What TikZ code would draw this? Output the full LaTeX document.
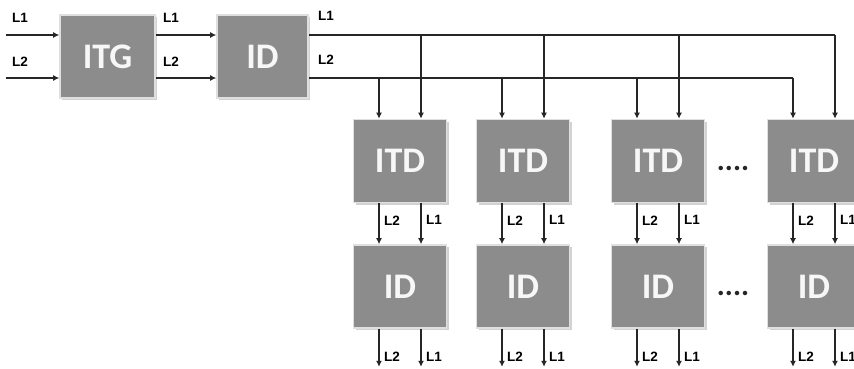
\documentclass[tikz,border=0pt]{standalone}
\usepackage{fontspec}
\setmainfont{Liberation Sans}
\newfontfamily\boxfont{Carlito}
\usetikzlibrary{arrows.meta,shadows}
\definecolor{boxgray}{HTML}{8C8C8C}
\definecolor{wirecol}{HTML}{262626}
\tikzset{
  blk/.style={draw=gray!25, line width=1.6pt, fill=boxgray, minimum width=93pt, minimum height=83pt,
    inner sep=0pt, text=white!94!gray, font=\boxfont\bfseries\fontsize{36}{36}\selectfont,
    drop shadow={shadow xshift=2pt, shadow yshift=-2pt, opacity=0.35}},
  wire/.style={draw=wirecol, line width=2.6pt},
  arr/.style={wire, -{Latex[length=6pt,width=6pt]}},
  lbl/.style={font=\bfseries\fontsize{13.5}{13.5}\selectfont, text=black, inner sep=0pt},
  dotsx/.style={font=\boxfont\bfseries\fontsize{30}{30}\selectfont, text=wirecol, inner sep=0pt}
}
\begin{document}
\begin{tikzpicture}[x=1pt,y=-1pt]
\useasboundingbox (0,0) rectangle (854,369);
\clip (0,0) rectangle (854,369);
\fill[white] (0,0) rectangle (854,369);
% top chain
\node[blk, minimum width=95pt] (itg) at (107.5,56.5) {ITG};
\node[blk, minimum width=91pt] (id0) at (262.5,56.5) {ID};
\coordinate (in1) at (6,35);
\coordinate (in2) at (6,78);
\draw[arr] (in1) -- (in1 -| itg.west);
\draw[arr] (in2) -- (in2 -| itg.west);
\draw[arr] (itg.east |- in1) -- (id0.west |- in1);
\draw[arr] (itg.east |- in2) -- (id0.west |- in2);
\node[lbl, anchor=west] (t1) at (12,18) {L1};
\node[lbl, anchor=west] (t2) at (12,62) {L2};
\node[lbl, anchor=west] (t3) at (163,18) {L1};
\node[lbl, anchor=west] (t4) at (163,62) {L2};
\node[lbl, anchor=west] (t5) at (318,16) {L1};
\node[lbl, anchor=west] (t6) at (318,60) {L2};
% rows
\foreach \i/\x in {1/400,2/523,3/658,4/814}{
  \node[blk] (itd\i) at (\x,161) {ITD};
  \node[blk] (idb\i) at (\x,286.5) {ID};
}
\node[dotsx] (d1) at (733,168) {....};
\node[dotsx] (d2) at (733,293) {....};
% buses
\draw[wire] (id0.east |- in1) -- ([xshift=21pt]itd4.north |- in1);
\draw[wire] (id0.east |- in2) -- ([xshift=-21pt]itd4.north |- in2);
\foreach \i in {1,2,3,4}{
  \draw[arr] ([xshift=21pt]itd\i.north |- in1) -- ([xshift=21pt]itd\i.north);
  \draw[arr] ([xshift=-21pt]itd\i.north |- in2) -- ([xshift=-21pt]itd\i.north);
  \draw[arr] ([xshift=-21pt]itd\i.south) -- ([xshift=-21pt]idb\i.north);
  \draw[arr] ([xshift=21pt]itd\i.south) -- ([xshift=21pt]idb\i.north);
  \coordinate (o2\i) at ([xshift=-21pt,yshift=-38pt]idb\i.south);
  \coordinate (o1\i) at ([xshift=21pt,yshift=-38pt]idb\i.south);
  \draw[arr] ([xshift=-21pt]idb\i.south) -- (o2\i);
  \draw[arr] ([xshift=21pt]idb\i.south) -- (o1\i);
  \node[lbl, anchor=west] (m2\i) at ([xshift=-16pt,yshift=-17pt]itd\i.south) {L2};
  \node[lbl, anchor=west] (m1\i) at ([xshift=26pt,yshift=-17pt]itd\i.south) {L1};
  \node[lbl, anchor=west] (b2\i) at ([xshift=-16pt,yshift=-28pt]idb\i.south) {L2};
  \node[lbl, anchor=west] (b1\i) at ([xshift=26pt,yshift=-28pt]idb\i.south) {L1};
}
\end{tikzpicture}
\end{document}
